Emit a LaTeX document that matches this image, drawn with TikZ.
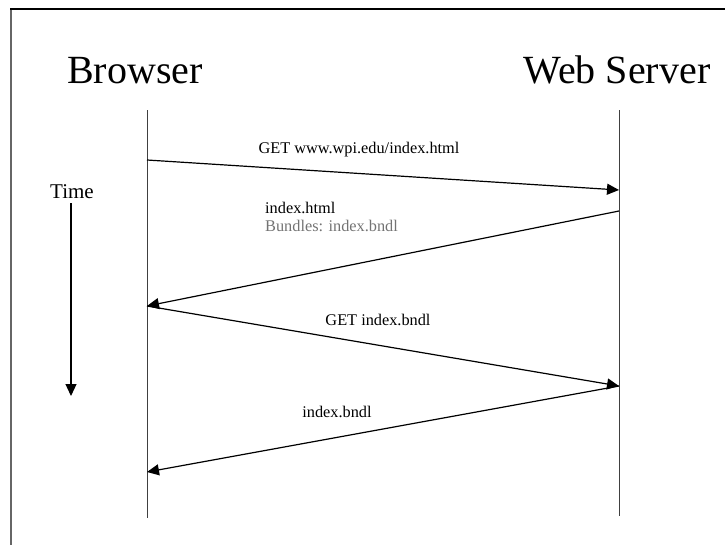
\documentclass[tikz,border=0pt]{standalone}
\usepackage{fontspec}
\setmainfont{Liberation Serif}
\usetikzlibrary{arrows.meta,positioning}
\tikzset{
    %Define standard arrow tip
    >={Triangle[length=12pt,width=11pt]},
    %Define style for the actors
    actor/.style={
           font=\fontsize{40}{40}\selectfont,
           inner sep=0pt,
           anchor=base},
    lifeline/.style={
           draw=black!75,
           line width=1pt},
    % Define arrow style
    msg/.style={
           ->,
           draw=black,
           line width=1.2pt},
    msglabel/.style={
           font=\fontsize{16.3}{16.3}\selectfont,
           inner sep=0pt,
           anchor=base}
}
\begin{document}
\begin{tikzpicture}[x=1pt,y=-1pt]
\useasboundingbox (0,0) rectangle (725,544);

 %frame
\draw[black!60, line width=1.5pt] (11,545) -- (11,9);
\draw[line width=1.5pt] (10.25,9) -- (726,9);

 %actors and lifelines
\node[actor](browser) at (135,83){Browser};
\node[actor](server) at (617,83){Web Server};
\coordinate (btop) at (147,110);
\coordinate (bbot) at (147,518);
\coordinate (stop) at (619,110);
\coordinate (sbot) at (619,516);
\draw[lifeline] (btop) -- (bbot);
\draw[lifeline] (stop) -- (sbot);

 %message ends
\coordinate (b1) at (147,160);
\coordinate (s1) at (619,190);
\coordinate (s2) at (619,211);
\coordinate (b2) at (147,306);
\coordinate (s3) at (619,386);
\coordinate (b3) at (147,472);

\draw[msg] (b1) -- (s1);
\draw[msg] (s2) -- (b2);
\draw[msg] (b2) -- (s3);
\draw[msg] (s3) -- (b3);

 %labels
\node[msglabel](get1) at (359,153){GET www.wpi.edu/index.html};
\node[msglabel, anchor=base west](resp1) at (265,213){index.html};
\node[msglabel, anchor=base west, text=black!55](bundles) at (265,231){Bundles: index.bndl};
\node[msglabel](get2) at (378,325){GET index.bndl};
\node[msglabel](resp2) at (337,417){index.bndl};

 %time axis
\node[actor, font=\fontsize{21}{21}\selectfont](time) at (72,198){Time};
\coordinate (tstart) at (71,203);
\coordinate (tend) at (71,396);
\draw[msg] (tstart) -- (tend);

\end{tikzpicture}
\end{document}
